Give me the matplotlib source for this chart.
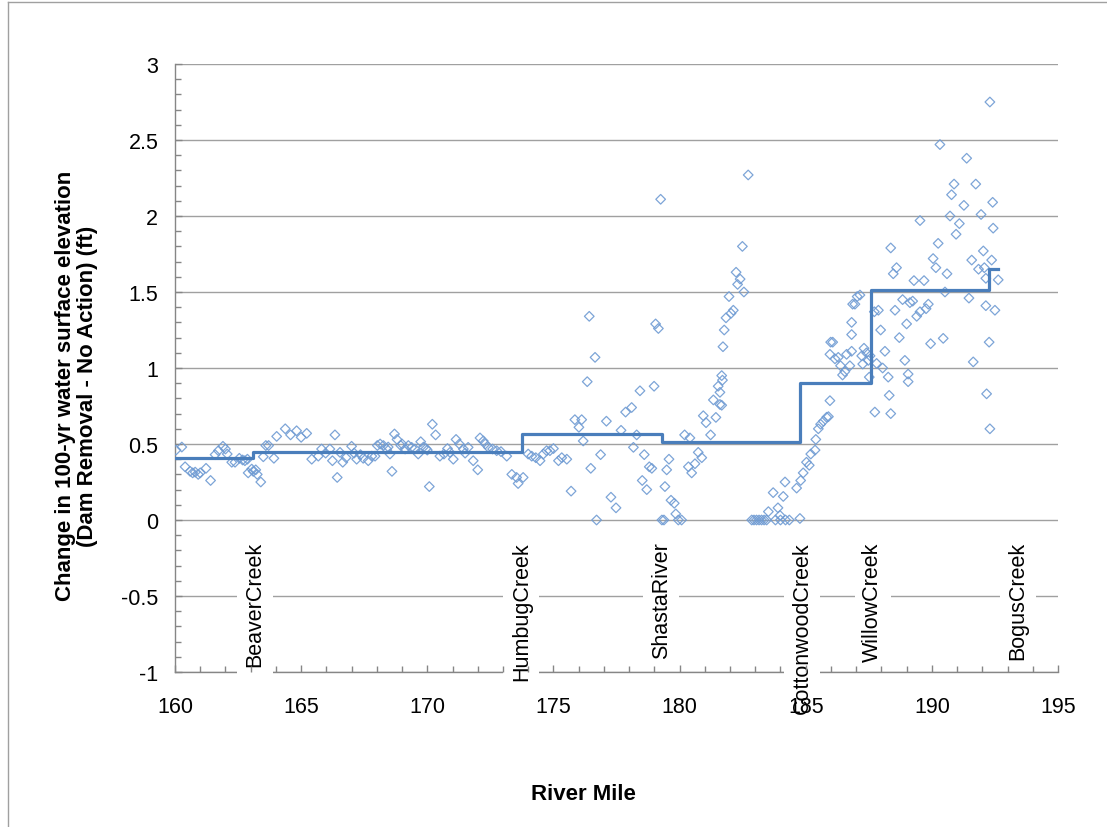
import matplotlib
matplotlib.use("Agg")
import matplotlib.pyplot as plt
from matplotlib.ticker import MultipleLocator
from matplotlib.lines import Line2D

plt.rcParams['font.family'] = ['Liberation Sans', 'DejaVu Sans']
plt.rcParams['axes.unicode_minus'] = False

# ---- data ----
river_mile = [
    160.04, 160.27, 160.4, 160.6, 160.7, 160.8, 160.92, 161.0, 161.23, 161.41, 161.59, 161.72, 161.9,
    162.0, 162.07, 162.25, 162.38, 162.55, 162.68, 162.77, 162.87, 162.9, 163.04, 163.1, 163.2, 163.26,
    163.4, 163.5, 163.6, 163.71, 163.92, 164.03, 164.37, 164.58, 164.82, 165.0, 165.22, 165.42, 165.68,
    165.81, 165.97, 166.14, 166.24, 166.34, 166.43, 166.54, 166.65, 166.78,
    167.0, 167.1, 167.2, 167.35, 167.46, 167.66, 167.8, 167.93, 168.02, 168.13, 168.26, 168.39, 168.45,
    168.52, 168.6, 168.7, 168.8, 168.95, 169.0, 169.12, 169.25, 169.38, 169.51, 169.64, 169.74, 169.85,
    169.95, 170.0, 170.08, 170.2, 170.33, 170.5, 170.66, 170.8, 170.9, 171.03, 171.14, 171.27, 171.43,
    171.5, 171.62, 171.82, 172.0, 172.09, 172.22, 172.3, 172.42, 172.59, 172.75, 172.92, 173.15, 173.35,
    173.54, 173.6, 173.8,
    174.0, 174.14, 174.3, 174.47, 174.6, 174.73, 174.86, 175.0, 175.2, 175.33, 175.53, 175.7, 175.85,
    176.01, 176.12, 176.18, 176.34, 176.42, 176.48, 176.65, 176.71, 176.87, 177.1, 177.28, 177.48,
    177.68, 177.86, 178.1, 178.17, 178.3, 178.43, 178.52, 178.6, 178.7, 178.8, 178.9, 178.99, 179.05,
    179.16, 179.25, 179.3, 179.38, 179.42, 179.49, 179.58, 179.66, 179.79, 179.85, 179.95, 180.08,
    180.2, 180.35, 180.41, 180.48, 180.61, 180.74, 180.88,
    180.94, 181.05, 181.23, 181.34, 181.44, 181.53, 181.6, 181.6, 181.67, 181.67, 181.7, 181.72, 181.77,
    181.84, 181.96, 182.04, 182.13, 182.24, 182.3, 182.4, 182.49, 182.55, 182.72, 182.86, 182.95, 183.05,
    183.15, 183.25, 183.35, 183.45, 183.52, 183.71, 183.8, 183.9, 183.98, 184.0, 184.11, 184.18, 184.2,
    184.35, 184.64, 184.77, 184.8, 184.9, 185.03, 185.14, 185.2, 185.37, 185.4, 185.5, 185.59, 185.7,
    185.83, 185.9,
    185.96, 185.99, 186.07, 185.96, 186.16, 186.29, 186.38, 186.46, 186.55, 186.75, 186.62, 186.82,
    186.82, 186.82, 186.86, 186.95, 187.04, 187.15, 187.22, 187.31, 187.26, 187.41, 187.48, 187.55,
    187.52, 187.72, 187.88, 187.74, 187.97, 187.81, 188.05, 188.14, 188.27, 188.31, 188.37, 188.37,
    188.6, 188.47, 188.54, 188.71, 188.84, 189.0, 188.93, 189.06, 189.06, 189.13, 189.24, 189.29, 189.4,
    189.53, 189.69, 189.77, 189.86, 189.53, 189.95,
    190.05, 190.16, 190.25, 190.32, 191.38, 190.88, 191.74, 190.78, 191.27, 192.41, 191.95, 190.72,
    191.09, 190.96, 192.43, 190.6, 192.04, 191.58, 191.85, 192.08, 192.37, 192.14, 192.63, 190.52,
    191.47, 192.14, 192.5, 190.45, 192.27, 191.64, 192.17, 192.3, 192.3,
]
wse_change = [
    0.46, 0.48, 0.35, 0.32, 0.31, 0.315, 0.30, 0.31, 0.34, 0.26, 0.43, 0.456, 0.485,
    0.467, 0.434, 0.38, 0.38, 0.406, 0.395, 0.39, 0.40, 0.31, 0.335, 0.32, 0.33, 0.30,
    0.25, 0.416, 0.49, 0.49, 0.406, 0.55, 0.60, 0.56, 0.587, 0.544, 0.57, 0.40, 0.42,
    0.467, 0.44, 0.467, 0.39, 0.56, 0.28, 0.445, 0.38, 0.41,
    0.485, 0.44, 0.40, 0.43, 0.406, 0.39, 0.42, 0.42, 0.49, 0.50, 0.49, 0.467, 0.48,
    0.434, 0.32, 0.566, 0.53, 0.49, 0.50, 0.467, 0.49, 0.478, 0.467, 0.434, 0.515, 0.48,
    0.47, 0.46, 0.22, 0.63, 0.56, 0.42, 0.434, 0.47, 0.445, 0.40, 0.53, 0.50, 0.467,
    0.44, 0.478, 0.39, 0.33, 0.54, 0.52, 0.50, 0.478, 0.467, 0.456, 0.45, 0.42, 0.30,
    0.28, 0.24, 0.28,
    0.434, 0.42, 0.41, 0.39, 0.434, 0.456, 0.456, 0.47, 0.39, 0.41, 0.40, 0.19, 0.66,
    0.61, 0.66, 0.52, 0.91, 1.34, 0.34, 1.07, 0.0, 0.43, 0.65, 0.15, 0.08,
    0.59, 0.71, 0.74, 0.478, 0.56, 0.85, 0.26, 0.43, 0.20, 0.35, 0.34, 0.88, 1.29,
    1.26, 2.11, 0.0, 0.0, 0.22, 0.33, 0.40, 0.13, 0.11, 0.04, 0.0, 0.0,
    0.56, 0.35, 0.54, 0.31, 0.37, 0.445, 0.41,
    0.686, 0.64, 0.56, 0.79, 0.675, 0.88, 0.84, 0.76, 0.755, 0.95, 0.92, 1.14, 1.25,
    1.33, 1.47, 1.36, 1.38, 1.63, 1.55, 1.585, 1.80, 1.50, 2.27, 0.0, 0.0, 0.0,
    0.0, 0.0, 0.0, 0.0, 0.055, 0.18, 0.0, 0.08, 0.03, 0.0, 0.155, 0.25, 0.0,
    0.0, 0.21, 0.01, 0.26, 0.31, 0.38, 0.36, 0.434, 0.46, 0.53, 0.60, 0.63, 0.65,
    0.676, 0.68,
    0.785, 1.17, 1.17, 1.09, 1.06, 1.07, 1.015, 0.954, 0.976, 1.015, 1.09, 1.11,
    1.22, 1.30, 1.42, 1.42, 1.47, 1.48, 1.08, 1.13, 1.026, 1.10, 1.05, 1.08,
    0.94, 1.37, 1.38, 0.71, 1.25, 1.03, 1.00, 1.11, 0.94, 0.82, 0.70, 1.79,
    1.66, 1.62, 1.38, 1.20, 1.45, 1.29, 1.05, 0.96, 0.91, 1.43, 1.44, 1.575, 1.34,
    1.37, 1.575, 1.39, 1.42, 1.97, 1.16,
    1.72, 1.66, 1.82, 2.47, 2.38, 2.21, 2.21, 2.14, 2.07, 2.09, 2.01, 2.0,
    1.95, 1.88, 1.92, 1.62, 1.77, 1.71, 1.65, 1.66, 1.71, 1.59, 1.58, 1.50,
    1.46, 1.41, 1.38, 1.195, 1.17, 1.04, 0.83, 0.60, 2.75,
]

# reach-average step line
step_mile = [160.0, 163.1, 173.74, 179.29, 184.77, 187.57, 192.26, 192.63]
step_level = [0.41, 0.45, 0.566, 0.511, 0.90, 1.51, 1.65]

# tributary labels
creek_names = ['BeaverCreek', 'HumbugCreek', 'ShastaRiver', 'CottonwoodCreek', 'WillowCreek', 'BogusCreek']
creek_mile = [163.17, 173.73, 179.28, 184.85, 187.66, 193.41]

y_ticks = [-1, -0.5, 0, 0.5, 1, 1.5, 2, 2.5, 3]
y_tick_labels = ['-1', '-0.5', '0', '0.5', '1', '1.5', '2', '2.5', '3']
x_ticks = [160, 165, 170, 175, 180, 185, 190, 195]

# ---- figure ----
W, H = 1107, 828
fig = plt.figure(figsize=(W / 100, H / 100), dpi=100)
ax = fig.add_axes([175 / W, 1 - 673 / H, (1058 - 175) / W, (673 - 65) / H])

ax.set_xlim(160, 195)
ax.set_ylim(-1, 3)

ax.scatter(river_mile, wse_change, marker='D', s=24, facecolors='none',
           edgecolors='#6F9BD3', linewidths=0.9, zorder=3, alpha=0.9)

levels_ext = step_level + [step_level[-1]]
ax.step(step_mile, levels_ext, where='post', color='#4A7EBB', lw=2.3, zorder=4)

# axes styling
for s in ['top', 'right']:
    ax.spines[s].set_visible(False)
for s in ['left', 'bottom']:
    ax.spines[s].set_color('#868686')
    ax.spines[s].set_linewidth(1.0)

ax.set_yticks(y_ticks)
ax.set_yticklabels(y_tick_labels)
ax.set_xticks(x_ticks)
ax.set_xticklabels([str(v) for v in x_ticks])
ax.xaxis.set_minor_locator(MultipleLocator(1))
ax.yaxis.set_minor_locator(MultipleLocator(0.1))
ax.tick_params(axis='both', which='both', direction='in', color='#868686')
ax.tick_params(axis='both', which='major', length=5, width=1.0, labelsize=15.5)
ax.tick_params(axis='both', which='minor', length=4, width=1.0)
ax.tick_params(axis='x', which='major', pad=17)
ax.tick_params(axis='y', which='major', pad=12)

ax.grid(axis='y', which='major', color='#A0A0A0', lw=1.0, zorder=0)
ax.set_axisbelow(True)
ax.xaxis.set_zorder(7)

ax.set_xlabel('River Mile', fontsize=16, fontweight='bold')
ax.xaxis.set_label_coords(0.462, -0.1826)
ax.set_ylabel('Change in 100-yr water surface elevation\n(Dam Removal - No Action) (ft)',
              fontsize=16, fontweight='bold', linespacing=1.05)
ax.yaxis.set_label_coords(-0.087, 0.472)

for name, m in zip(creek_names, creek_mile):
    ax.text(m, -0.14, name, rotation=90, ha='center', va='top', fontsize=15.5,
            zorder=6, clip_on=False,
            bbox=dict(boxstyle='square,pad=0.35', fc='white', ec='none'))

# outer chart border (left and top only visible)
fig.add_artist(Line2D([8 / W, 8 / W], [0, 1 - 3 / H], transform=fig.transFigure, color='#A0A0A0', lw=1.0))
fig.add_artist(Line2D([8 / W, 1], [1 - 3 / H, 1 - 3 / H], transform=fig.transFigure, color='#A0A0A0', lw=1.0))

fig.savefig('out.png', dpi=100, facecolor='white')
